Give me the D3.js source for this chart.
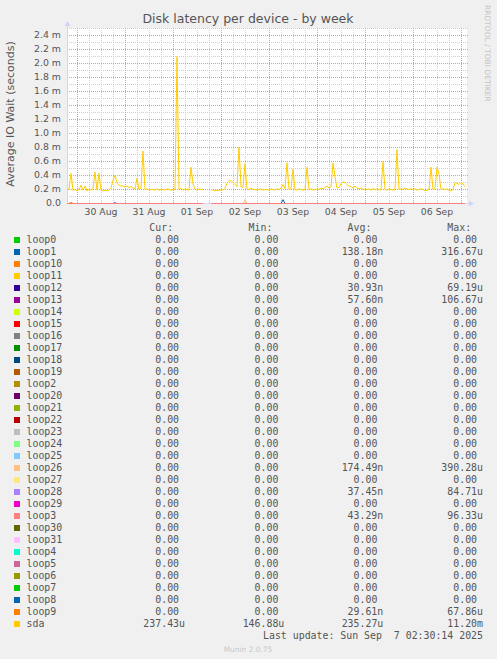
<!DOCTYPE html>
<html><head><meta charset="utf-8">
<script src="https://cdn.jsdelivr.net/npm/d3@7"></script>
<style>
html,body{margin:0;padding:0;background:#F0F0F0;}
svg{display:block;}
</style></head><body>
<svg id="c" width="497" height="659"></svg>
<script>
// ---------------- data ----------------
const chartTitle = "Disk latency per device - by week";
const yAxisLabel = "Average IO Wait (seconds)";
const watermark = "RRDTOOL / TOBI OETIKER";
const lastUpdate = "Last update: Sun Sep  7 02:30:14 2025";
const footer = "Munin 2.0.75";
const columnHeaders = ["Cur:", "Min:", "Avg:", "Max:"];

const startTime = new Date(2025, 7, 29, 19, 0);
const endTime = new Date(2025, 8, 7, 3, 0);

// y ticks in milliseconds
const yTickMs = [0.0, 0.2, 0.4, 0.6, 0.8, 1.0, 1.2, 1.4, 1.6, 1.8, 2.0, 2.2, 2.4];
const yMaxMs = 2.5;

// sda average IO wait, ms, one sample per hour from startTime (null = no data)
const sdaMs = [
  0.21,0.20,0.43,0.19,0.20,0.18,0.20,0.26,0.19,0.25,
  0.18,0.20,0.19,0.21,0.45,0.19,0.43,0.19,0.18,0.19,
  0.18,0.19,0.22,0.33,0.40,0.30,0.26,0.25,0.25,0.24,
  0.25,0.23,0.24,0.22,0.21,0.36,0.20,0.22,0.75,0.20,
  0.21,0.19,0.20,0.20,0.19,0.21,0.19,0.20,0.20,0.19,
  0.21,0.20,0.19,0.20,0.20,2.10,0.20,0.22,0.19,0.21,
  0.20,0.19,0.52,0.28,0.21,0.19,0.21,0.20,0.20,null,
  null,null,0.20,0.19,0.18,0.19,0.18,0.20,0.19,0.22,
  0.29,0.32,0.33,0.30,0.27,0.24,0.80,0.24,0.23,0.57,
  0.21,0.20,0.22,0.20,0.20,0.19,0.20,0.21,0.19,0.20,
  0.20,0.19,0.21,0.20,0.19,0.21,0.20,0.22,0.27,0.21,
  0.58,0.20,0.21,0.49,0.20,0.19,0.21,0.20,0.19,0.20,
  0.52,0.20,0.21,0.19,0.20,0.21,0.20,0.22,0.21,0.23,
  0.25,0.22,0.24,0.58,0.38,0.22,0.23,0.28,0.31,0.30,
  0.27,0.25,0.24,0.22,0.25,0.22,0.21,0.22,0.20,0.21,
  0.20,0.21,0.19,0.21,0.20,0.21,0.20,0.19,0.60,0.20,
  0.19,0.21,0.20,0.19,0.20,0.77,0.20,0.21,0.20,0.22,
  0.21,0.20,0.21,0.20,0.21,0.19,0.20,0.21,0.20,0.18,
  0.19,0.20,0.52,0.20,0.21,0.52,0.42,0.20,0.21,0.20,
  0.21,0.19,0.18,0.20,0.30,0.29,0.27,0.30,0.28,0.24
];

// loop devices: zero except these small visible bumps (hour index, ms)
const loopBumpSeries = ["loop3", "loop28", "loop26", "loop1"];
const loopBumpHour = [2, 24, 89, 108];
const loopBumpMs = [0.02, 0.02, 0.055, 0.055];
const gapHours = [69, 70, 71];
const topLoop = "loop3"; // loop line that ends up visible on top at zero

const seriesNames = ["loop0","loop1","loop10","loop11","loop12","loop13","loop14","loop15","loop16","loop17",
  "loop18","loop19","loop2","loop20","loop21","loop22","loop23","loop24","loop25","loop26",
  "loop27","loop28","loop29","loop3","loop30","loop31","loop4","loop5","loop6","loop7",
  "loop8","loop9","sda"];
const seriesColors = ["#00CC00","#0066B3","#FF8000","#FFCC00","#330099","#990099","#CCFF00","#FF0000","#808080","#008F00",
  "#00487D","#B35A00","#B38F00","#6B006B","#8FB300","#B30000","#BEBEBE","#80FF80","#80C9FF","#FFC080",
  "#FFE680","#AA80FF","#EE00CC","#FF8080","#666600","#FFBFFF","#00FFCC","#CC6699","#999900","#00CC00",
  "#0066B3","#FF8000","#FFCC00"];
// seconds
const curVals = [0,0,0,0,0,0,0,0,0,0, 0,0,0,0,0,0,0,0,0,0, 0,0,0,0,0,0,0,0,0,0, 0,0,237.43e-6];
const minVals = [0,0,0,0,0,0,0,0,0,0, 0,0,0,0,0,0,0,0,0,0, 0,0,0,0,0,0,0,0,0,0, 0,0,146.88e-6];
const avgVals = [0,138.18e-9,0,0,30.93e-9,57.60e-9,0,0,0,0, 0,0,0,0,0,0,0,0,0,174.49e-9,
  0,37.45e-9,0,43.29e-9,0,0,0,0,0,0, 0,29.61e-9,235.27e-6];
const maxVals = [0,316.67e-6,0,0,69.19e-6,106.67e-6,0,0,0,0, 0,0,0,0,0,0,0,0,0,390.28e-6,
  0,84.71e-6,0,96.33e-6,0,0,0,0,0,0, 0,67.86e-6,11.20e-3];

// ---------------- drawing ----------------
const svg = d3.select("#c");
const sans = "'DejaVu Sans', sans-serif";
const mono = "'DejaVu Sans Mono', monospace";
const fontColor = "#555";

const plot = {left: 67, right: 467, top: 28, bottom: 203};
const x = d3.scaleTime().domain([startTime, endTime]).range([plot.left, plot.right]);
const y = d3.scaleLinear().domain([0, yMaxMs]).range([plot.bottom, plot.top]);

svg.append("rect").attr("width", 497).attr("height", 659).attr("fill", "#F0F0F0");
svg.append("rect").attr("x", plot.left).attr("y", plot.top)
  .attr("width", plot.right - plot.left).attr("height", plot.bottom - plot.top).attr("fill", "#FFFFFF");

const grid = svg.append("g").attr("shape-rendering", "crispEdges");
const minorColor = "#CDCDCD", majorColor = "#E89696";
// horizontal
d3.range(0, 26).map(k => k / 10).forEach(v => {
  const yy = Math.round(y(v)) + 0.5;
  const major = Math.abs(v * 5 - Math.round(v * 5)) < 1e-6;
  grid.append("line").attr("x1", plot.left).attr("x2", plot.right + 1).attr("y1", yy).attr("y2", yy)
    .attr("stroke", major ? majorColor : minorColor).attr("stroke-dasharray", "1,1");
});
// vertical
d3.timeHour.every(6).range(startTime, endTime).forEach(t => {
  const xx = Math.round(x(t)) + 0.5;
  const major = t.getHours() === 0;
  grid.append("line").attr("x1", xx).attr("x2", xx).attr("y1", plot.top).attr("y2", plot.bottom)
    .attr("stroke", major ? majorColor : minorColor).attr("stroke-dasharray", "1,1");
});

// axes (lavender)
const axisColor = "#CFD6F8";
svg.append("line").attr("x1", plot.left + 0.5).attr("x2", plot.left + 0.5).attr("y1", plot.bottom).attr("y2", plot.top - 3)
  .attr("stroke", axisColor);
svg.append("line").attr("x1", plot.left).attr("x2", plot.right + 3).attr("y1", plot.bottom + 0.5).attr("y2", plot.bottom + 0.5)
  .attr("stroke", axisColor);
svg.append("path").attr("d", `M${plot.left - 2.5},${plot.top - 2} L${plot.left + 0.5},${plot.top - 7} L${plot.left + 3.5},${plot.top - 2} Z`).attr("fill", axisColor);
svg.append("path").attr("d", `M${plot.right + 2},${plot.bottom - 2.5} L${plot.right + 7},${plot.bottom + 0.5} L${plot.right + 2},${plot.bottom + 3.5} Z`).attr("fill", axisColor);

// y tick labels
svg.append("g").selectAll("text").data(yTickMs).join("text")
  .attr("x", 61).attr("y", d => y(d) + 3.4).attr("text-anchor", "end")
  .attr("font-family", sans).attr("font-size", 9.4).attr("fill", fontColor)
  .text(d => d === 0 ? "0.0" : d.toFixed(1) + " m");

// x tick labels at noon
const fmtDay = d3.timeFormat("%d %b");
const days = d3.timeDay.range(d3.timeDay.ceil(startTime), endTime).map(d => d3.timeHour.offset(d, 12)).filter(d => d < endTime);
svg.append("g").selectAll("text").data(days).join("text")
  .attr("x", d => x(d)).attr("y", 215.2).attr("text-anchor", "middle")
  .attr("font-family", sans).attr("font-size", 9.3).attr("fill", fontColor)
  .text(d => fmtDay(d));

// series
const hours = sdaMs.map((_, i) => d3.timeHour.offset(startTime, i));
const line = d3.line().defined(d => d.v != null).x(d => x(d.t)).y(d => y(d.v));
const dataG = svg.append("g").attr("transform", "translate(0,0.5)");
const drawOrder = seriesNames.map((n, i) => i)
  .sort((a, b) => {
    const ka = seriesNames[a] === "sda" ? 2 : (seriesNames[a] === topLoop ? 1 : 0);
    const kb = seriesNames[b] === "sda" ? 2 : (seriesNames[b] === topLoop ? 1 : 0);
    return ka - kb || a - b;
  });
drawOrder.forEach(si => {
  const name = seriesNames[si];
  let vals;
  if (name === "sda") vals = sdaMs;
  else vals = hours.map((_, i) => {
    if (gapHours.includes(i)) return null;
    const b = loopBumpSeries.indexOf(name);
    return (b >= 0 && loopBumpHour[b] === i) ? loopBumpMs[b] : 0;
  });
  dataG.append("path").datum(vals.map((v, i) => ({t: hours[i], v})))
    .attr("d", line).attr("fill", "none").attr("stroke", seriesColors[si]).attr("stroke-width", 1);
});

// title
svg.append("text").attr("x", 248).attr("y", 23).attr("text-anchor", "middle")
  .attr("font-family", sans).attr("font-size", 12.5).attr("fill", fontColor).text(chartTitle);
// y label
svg.append("text").attr("transform", "translate(13.8,114) rotate(-90)").attr("text-anchor", "middle")
  .attr("font-family", sans).attr("font-size", 11).attr("fill", fontColor).text(yAxisLabel);
// watermark
svg.append("text").attr("transform", "translate(485,5) rotate(90)").attr("text-anchor", "start")
  .attr("font-family", sans).attr("font-size", 7.5).attr("fill", "#C4C4C4").text(watermark);

// legend
const colRight = [185, 284.3, 383.3, 483];
const cw = 5.96;
const legendFont = 9.9;
const legendTop = 242.6, rowH = 12;
const lg = svg.append("g").attr("font-family", mono).attr("font-size", legendFont).attr("fill", fontColor);
columnHeaders.forEach((h, ci) => {
  lg.append("text").attr("x", colRight[ci] - 2 * cw).attr("y", legendTop - rowH).attr("text-anchor", "end").text(h);
});
function fmtSI(v) {
  if (v === 0) return ["0.00", ""];
  const e = Math.floor(Math.log10(v) / 3) * 3;
  const p = {"-9": "n", "-6": "u", "-3": "m", "0": ""}[String(e)];
  return [(v / Math.pow(10, e)).toFixed(2), p];
}
const cols = [curVals, minVals, avgVals, maxVals];
seriesNames.forEach((name, i) => {
  const by = legendTop + i * rowH;
  lg.append("rect").attr("x", 14).attr("y", by - 5.8).attr("width", 6).attr("height", 6)
    .attr("fill", seriesColors[i]).attr("shape-rendering", "crispEdges");
  lg.append("text").attr("x", 26.5).attr("y", by).text(name);
  cols.forEach((arr, ci) => {
    const [num, suf] = fmtSI(arr[i]);
    lg.append("text").attr("x", colRight[ci] - cw).attr("y", by).attr("text-anchor", "end").text(num);
    if (suf) lg.append("text").attr("x", colRight[ci] - cw).attr("y", by).text(suf);
  });
});
lg.append("text").attr("x", colRight[3]).attr("y", legendTop + seriesNames.length * rowH)
  .attr("text-anchor", "end").attr("xml:space", "preserve").style("white-space", "pre").text(lastUpdate);

svg.append("text").attr("x", 248).attr("y", 651.5).attr("text-anchor", "middle")
  .attr("font-family", sans).attr("font-size", 7.45).attr("fill", "#C8C8C8").text(footer);
</script>
</body></html>
